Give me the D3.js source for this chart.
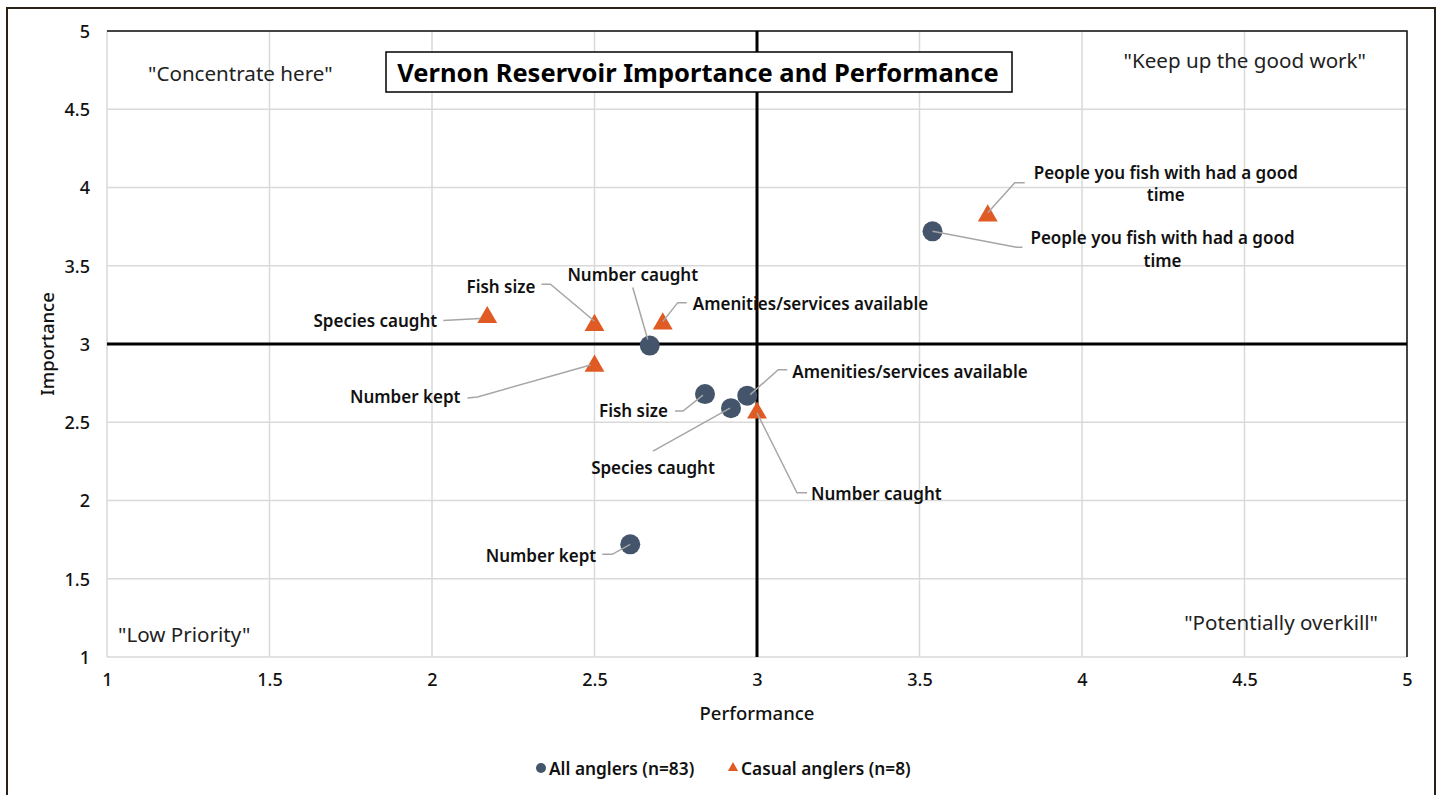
<!DOCTYPE html>
<html>
<head>
<meta charset="utf-8">
<script src="https://cdn.jsdelivr.net/npm/d3@7"></script>
<style>
  html, body { margin: 0; padding: 0; background: #fff; }
  svg { display: block; font-family: "Noto Sans", "Open Sans", sans-serif; }
</style>
</head>
<body>
<svg id="chart" width="1439" height="795"></svg>
<script>
// ---------- data ----------
const categories = ["People you fish with had a good time", "Species caught", "Fish size",
                    "Amenities/services available", "Number kept", "Number caught"];
const allPerformance    = [3.54, 2.92, 2.84, 2.97, 2.61, 2.67];
const allImportance     = [3.72, 2.59, 2.68, 2.67, 1.72, 2.99];
const casualPerformance = [3.71, 2.17, 2.50, 2.71, 2.50, 3.00];
const casualImportance  = [3.82, 3.17, 3.12, 3.13, 2.86, 2.56];
const seriesNames = ["All anglers (n=83)", "Casual anglers (n=8)"];
const xTicks = [1, 1.5, 2, 2.5, 3, 3.5, 4, 4.5, 5];
const yTicks = [1, 1.5, 2, 2.5, 3, 3.5, 4, 4.5, 5];
const quadrantLabels = ['"Concentrate here"', '"Keep up the good work"', '"Low Priority"', '"Potentially overkill"'];
const chartTitle = "Vernon Reservoir Importance and Performance";

// ---------- layout (label placement, pixel offsets from marker) ----------
const allLabelLayout = [
  {dx: 230, dy: 6,   anchor: "middle", wrap: true, pts: [[90,16],[84,16],[0,0]]},
  {dx: -78, dy: 59,  anchor: "middle", pts: [[-78,43],[-1,0]]},
  {dx: -37, dy: 16,  anchor: "end",    pts: [[-30,17],[-22,17],[-2,1]]},
  {dx: 45,  dy: -24, anchor: "start",  pts: [[40,-26],[31,-26],[3,-1]]},
  {dx: -34, dy: 11,  anchor: "end",    pts: [[-28,10],[-18,10],[0,0]]},
  {dx: -17, dy: -71, anchor: "middle", pts: [[-17,-58],[-2,-6]]}
];
const casualLabelLayout = [
  {dx: 178, dy: -44, anchor: "middle", wrap: true, pts: [[37,-33],[27,-33],[0,-3]]},
  {dx: -50, dy: 3,   anchor: "end",    pts: [[-44,3],[-7,1]]},
  {dx: -59, dy: -39, anchor: "end",    pts: [[-53,-41],[-44,-41],[0,-4]]},
  {dx: 30,  dy: -20, anchor: "start",  pts: [[24,-21],[15,-21],[0,-2]]},
  {dx: -134,dy: 31,  anchor: "end",    pts: [[-127,32],[-117,31],[-4,-1]]},
  {dx: 54,  dy: 81,  anchor: "start",  pts: [[50,80],[40,80],[0,0]]}
];

const colAll = "#44546a", colCasual = "#e05a24", gridCol = "#d9d9d9", leaderCol = "#a6a6a6";

const svg = d3.select("#chart");
const pL = 107, pR = 1407, pT = 31, pB = 657;

const x = d3.scaleLinear().domain([1, 5]).range([pL, pR]);
const y = d3.scaleLinear().domain([1, 5]).range([pB, pT]);

// outer border
svg.append("rect").attr("x", 7).attr("y", 8).attr("width", 1428).attr("height", 800)
  .attr("fill", "#fff").attr("stroke", "#2a2116").attr("stroke-width", 2);

// gridlines
svg.append("g").selectAll("line").data(xTicks).join("line")
  .attr("x1", d => x(d)).attr("x2", d => x(d)).attr("y1", pT).attr("y2", pB)
  .attr("stroke", gridCol).attr("stroke-width", 1.5);
svg.append("g").selectAll("line").data(yTicks).join("line")
  .attr("y1", d => y(d)).attr("y2", d => y(d)).attr("x1", pL).attr("x2", pR)
  .attr("stroke", gridCol).attr("stroke-width", 1.5);

// top & right dark border
svg.append("path").attr("d", `M${pL},${pT}H${pR}V${pB}`)
  .attr("fill", "none").attr("stroke", "#111").attr("stroke-width", 1.5);

// axes tick labels via d3 axes
const xAxis = svg.append("g").attr("transform", `translate(0,${pB})`)
  .call(d3.axisBottom(x).tickValues(xTicks).tickSize(0).tickPadding(16).tickFormat(d3.format("")));
const yAxis = svg.append("g").attr("transform", `translate(${pL},0)`)
  .call(d3.axisLeft(y).tickValues(yTicks).tickSize(0).tickPadding(17).tickFormat(d3.format("")));
[xAxis, yAxis].forEach(a => {
  a.select(".domain").remove();
  a.selectAll("text").attr("font-family", '"Noto Sans", sans-serif').attr("font-size", 18)
    .attr("font-weight", 500).attr("fill", "#111");
});
yAxis.selectAll("text").attr("dy", "0.35em");

// quadrant crossing lines at 3
svg.append("line").attr("x1", x(3)).attr("x2", x(3)).attr("y1", pT).attr("y2", pB)
  .attr("stroke", "#000").attr("stroke-width", 3);
svg.append("line").attr("y1", y(3)).attr("y2", y(3)).attr("x1", pL).attr("x2", pR)
  .attr("stroke", "#000").attr("stroke-width", 3);

// axis titles
svg.append("text").attr("x", x(3)).attr("y", 712).attr("text-anchor", "middle")
  .attr("dominant-baseline", "central")
  .attr("font-size", 18.5).attr("font-weight", 500).attr("fill", "#111").text("Performance");
svg.append("text").attr("transform", `translate(46,${y(3)}) rotate(-90)`).attr("text-anchor", "middle")
  .attr("dominant-baseline", "central")
  .attr("font-size", 18.5).attr("font-weight", 500).attr("fill", "#111").text("Importance");

// quadrant labels
const qPos = [
  {x: 148, y: 73, anchor: "start"},
  {x: 1366, y: 60, anchor: "end"},
  {x: 118, y: 634, anchor: "start"},
  {x: 1378, y: 622, anchor: "end"}
];
svg.append("g").selectAll("text").data(quadrantLabels).join("text")
  .attr("x", (d, i) => qPos[i].x).attr("y", (d, i) => qPos[i].y)
  .attr("text-anchor", (d, i) => qPos[i].anchor).attr("dominant-baseline", "central")
  .attr("font-size", 20.6).attr("fill", "#222").text(d => d);

// title box
const tg = svg.append("g");
tg.append("rect").attr("x", 386).attr("y", 52).attr("width", 626).attr("height", 40)
  .attr("fill", "#fff").attr("stroke", "#000").attr("stroke-width", 1.5);
tg.append("text").attr("x", 698).attr("y", 72).attr("text-anchor", "middle")
  .attr("dominant-baseline", "central").attr("font-size", 25.5).attr("font-weight", 700)
  .attr("fill", "#000").text(chartTitle);

// series
const allData = categories.map((c, i) => ({c, px: allPerformance[i], py: allImportance[i], lay: allLabelLayout[i]}));
const casualData = categories.map((c, i) => ({c, px: casualPerformance[i], py: casualImportance[i], lay: casualLabelLayout[i]}));

const triPath = d3.symbol().type(d3.symbolTriangle).size(170)();

svg.append("g").selectAll("circle").data(allData).join("circle")
  .attr("cx", d => x(d.px)).attr("cy", d => y(d.py)).attr("r", 10).attr("fill", colAll);
svg.append("g").selectAll("path").data(casualData).join("path")
  .attr("d", triPath).attr("transform", d => `translate(${x(d.px)},${y(d.py)})`).attr("fill", colCasual);

// leader lines and labels
const lineGen = d3.line();
function drawLabels(data) {
  const g = svg.append("g");
  g.selectAll("path").data(data).join("path")
    .attr("d", d => lineGen(d.lay.pts.map(p => [x(d.px) + p[0], y(d.py) + p[1]])))
    .attr("fill", "none").attr("stroke", leaderCol).attr("stroke-width", 1.5);
  data.forEach(d => {
    const t = g.append("text").attr("x", x(d.px) + d.lay.dx).attr("y", y(d.py) + d.lay.dy)
      .attr("text-anchor", d.lay.anchor).attr("dominant-baseline", "central")
      .attr("font-size", 17).attr("font-weight", 600).attr("fill", "#111");
    if (d.lay.wrap) {
      const words = d.c.split(" ");
      const l1 = words.slice(0, words.length - 1).join(" ");
      const l2 = words[words.length - 1];
      t.append("tspan").attr("x", x(d.px) + d.lay.dx).attr("dy", 0).text(l1);
      t.append("tspan").attr("x", x(d.px) + d.lay.dx).attr("dy", 22.5).text(l2);
    } else {
      t.text(d.c);
    }
  });
}
drawLabels(allData);
drawLabels(casualData);

// legend
const lg = svg.append("g");
lg.append("circle").attr("cx", 541).attr("cy", 768).attr("r", 5).attr("fill", colAll);
lg.append("text").attr("x", 549).attr("y", 768).attr("dominant-baseline", "central")
  .attr("font-size", 17.3).attr("font-weight", 600).attr("fill", "#111").text(seriesNames[0]);
lg.append("path").attr("d", d3.symbol().type(d3.symbolTriangle).size(45)())
  .attr("transform", "translate(733,768)").attr("fill", colCasual);
lg.append("text").attr("x", 741).attr("y", 768).attr("dominant-baseline", "central")
  .attr("font-size", 17.3).attr("font-weight", 600).attr("fill", "#111").text(seriesNames[1]);
</script>
</body>
</html>
